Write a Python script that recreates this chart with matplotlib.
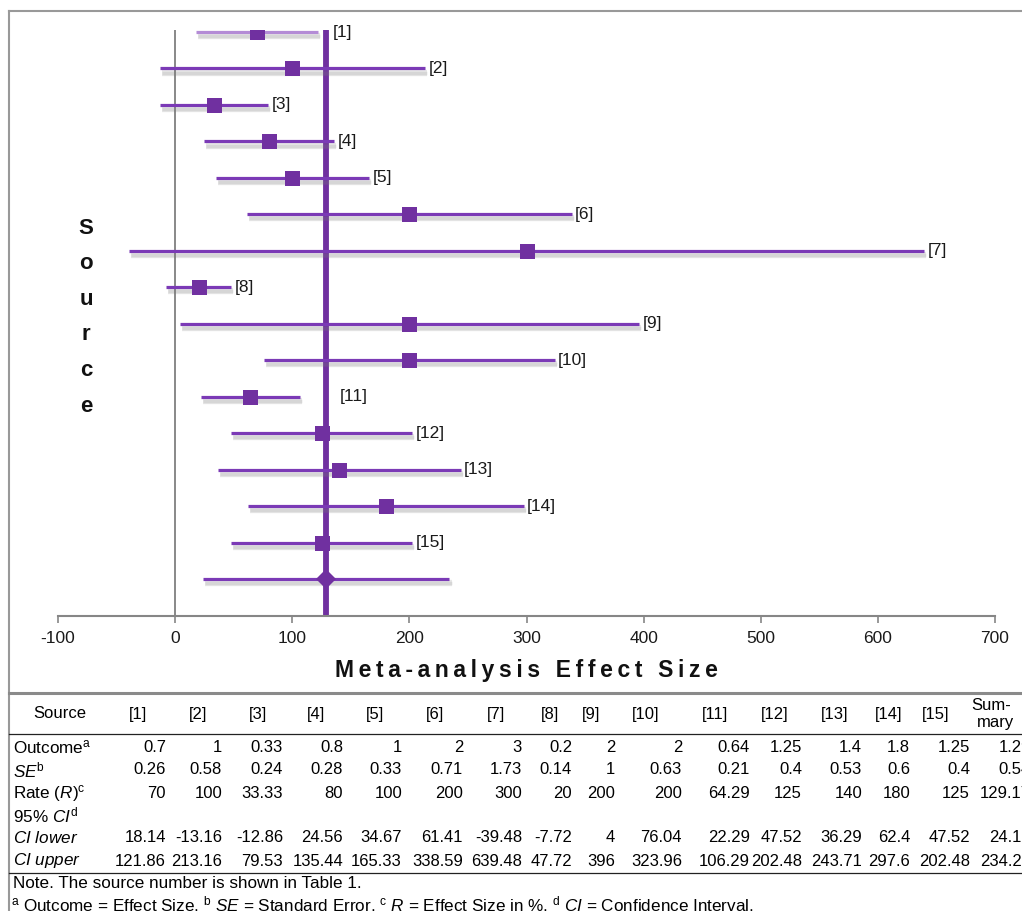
import matplotlib
matplotlib.use("Agg")
import matplotlib.pyplot as plt
import matplotlib.patheffects as pe
from matplotlib.lines import Line2D

plt.rcParams['font.family'] = ['Liberation Sans', 'DejaVu Sans']
plt.rcParams['mathtext.fontset'] = 'custom'
plt.rcParams['mathtext.rm'] = 'Liberation Sans'
plt.rcParams['mathtext.it'] = 'Liberation Sans:italic'
plt.rcParams['mathtext.bf'] = 'Liberation Sans:bold'

# ---------------- data ----------------
sources = ['[1]', '[2]', '[3]', '[4]', '[5]', '[6]', '[7]', '[8]', '[9]', '[10]',
           '[11]', '[12]', '[13]', '[14]', '[15]']
outcome = [0.7, 1, 0.33, 0.8, 1, 2, 3, 0.2, 2, 2, 0.64, 1.25, 1.4, 1.8, 1.25]
se = [0.26, 0.58, 0.24, 0.28, 0.33, 0.71, 1.73, 0.14, 1, 0.63, 0.21, 0.4, 0.53, 0.6, 0.4]
rate = [70, 100, 33.33, 80, 100, 200, 300, 20, 200, 200, 64.29, 125, 140, 180, 125]
ci_lower = [18.14, -13.16, -12.86, 24.56, 34.67, 61.41, -39.48, -7.72, 4, 76.04,
            22.29, 47.52, 36.29, 62.4, 47.52]
ci_upper = [121.86, 213.16, 79.53, 135.44, 165.33, 338.59, 639.48, 47.72, 396, 323.96,
            106.29, 202.48, 243.71, 297.6, 202.48]
summary_outcome = 1.29
summary_se = 0.54
summary_rate = 129.17
summary_lower = 24.1
summary_upper = 234.24
xticks = [-100, 0, 100, 200, 300, 400, 500, 600, 700]

# ---------------- figure ----------------
W, H = 1022, 911
fig = plt.figure(figsize=(W / 100, H / 100), dpi=100)
PURPLE = '#7030A0'
LINE = '#7B3AB6'

def fx(x):
    return x / W

def fy(y):
    return 1 - y / H

ax = fig.add_axes([fx(58), fy(616), 937 / W, (616 - 30) / H])
n = len(sources)
ypos = [n + 1 - i for i in range(n)]  # 16 .. 2
ysum = 1

shadow = [pe.SimpleLineShadow(offset=(1.5, -3), shadow_color='#7a7a7a', alpha=0.18, linewidth=4.5),
          pe.SimpleLineShadow(offset=(1.5, -3), shadow_color='#7a7a7a', alpha=0.15, linewidth=2.5),
          pe.Normal()]

ax.axvline(0, color='#7f7f7f', lw=1.3, zorder=1)
ax.axvline(summary_rate, color=PURPLE, lw=4.2, zorder=2)

for i in range(n):
    col = '#B48CD6' if i == 0 else LINE
    ax.plot([ci_lower[i], ci_upper[i]], [ypos[i], ypos[i]], color=col, lw=2.3,
            solid_capstyle='butt', path_effects=shadow, zorder=3)
    ax.plot([rate[i]], [ypos[i]], marker='s', ms=10.8, color=PURPLE, mec=PURPLE,
            mew=0, zorder=4)
    lx = ci_upper[i] + 3
    if summary_rate - 25 < ci_upper[i] < summary_rate + 4:
        lx = max(lx, summary_rate + 5)
    if i == 10:
        lx += 6
    ax.text(lx, ypos[i], sources[i], fontsize=12.5,
            ha='left', va='center', color='#1a1a1a')

ax.plot([summary_lower, summary_upper], [ysum, ysum], color=LINE, lw=2.3,
        solid_capstyle='butt', path_effects=shadow, zorder=3)
ax.plot([summary_rate], [ysum], marker='D', ms=10.5, color=PURPLE, mew=0, zorder=4)

ax.set_xlim(-100, 700)
ax.set_ylim(-0.015, 16.055)
ax.set_xticks(xticks)
ax.set_xticklabels([str(t) for t in xticks])
ax.set_yticks([])
for s in ['top', 'right', 'left']:
    ax.spines[s].set_visible(False)
ax.spines['bottom'].set_color('#868686')
ax.spines['bottom'].set_linewidth(1.5)
ax.tick_params(axis='x', direction='out', length=5, width=1.2, color='#868686',
               labelsize=12.5, pad=6, labelcolor='#1a1a1a')
xlabel = '\u2009'.join('Meta-analysis Effect Size')
ax.set_xlabel(xlabel, fontsize=16.5, fontweight='bold', labelpad=9, color='#111111')

# vertical y label
for k, ch in enumerate('Source'):
    fig.text(fx(86), fy(228 + 35.6 * k), ch, fontsize=16, fontweight='bold',
             ha='center', va='center', color='#111111')

# chart border
fig.add_artist(Line2D([fx(9), 1.0], [fy(11), fy(11)], color='#999999', lw=1.5))
fig.add_artist(Line2D([fx(9), fx(9)], [fy(11), 0.0], color='#999999', lw=1.5))

# ---------------- table ----------------
fig.add_artist(Line2D([fx(9), 1.0], [fy(693), fy(693)], color='#8a8a8a', lw=2.2))
fig.add_artist(Line2D([fx(9), 1.0], [fy(734), fy(734)], color='#222222', lw=0.9))
fig.add_artist(Line2D([fx(9), 1.0], [fy(873), fy(873)], color='#222222', lw=0.9))

TFS = 12
hdr_centers = [138, 198, 258, 316, 375, 435, 496, 550, 591, 646, 715, 775, 835, 889, 936]
val_right = [166, 222, 283, 343, 402, 463, 522, 572, 615, 682, 750, 802, 862, 910, 970]
sum_right = 1031

fig.text(fx(60), fy(714), 'Source', fontsize=TFS, ha='center', va='center')
for c, lab in zip(hdr_centers, sources):
    fig.text(fx(c), fy(714), lab, fontsize=TFS, ha='center', va='center')
fig.text(fx(1011), fy(706), 'Sum-', fontsize=TFS, ha='right', va='center')
fig.text(fx(1014), fy(723), 'mary', fontsize=TFS, ha='right', va='center')

row_labels = [r'Outcome$^{\mathrm{a}}$', r'$\mathit{SE}^{\mathrm{b}}$',
              r'Rate ($\mathit{R}$)$^{\mathrm{c}}$', r'95% $\mathit{CI}^{\mathrm{d}}$',
              r'$\mathit{CI\ lower}$', r'$\mathit{CI\ upper}$']
row_y = [747, 770, 793, 815, 838, 861]
row_vals = [outcome, se, rate, None, ci_lower, ci_upper]
row_sum = [summary_outcome, summary_se, summary_rate, None, summary_lower, summary_upper]

def fmt(v):
    return f'{v:g}'

for lab, y, vals, sv in zip(row_labels, row_y, row_vals, row_sum):
    fig.text(fx(13), fy(y), lab, fontsize=12.3, ha='left', va='center')
    if vals is None:
        continue
    for r, v in zip(val_right, vals):
        fig.text(fx(r), fy(y), fmt(v), fontsize=TFS, ha='right', va='center')
    fig.text(fx(sum_right), fy(y), f'{sv:.2f}', fontsize=TFS, ha='right', va='center')

fig.text(fx(13), fy(884), 'Note. The source number is shown in Table 1.', fontsize=12.3,
         ha='left', va='center')
fig.text(fx(11), fy(904),
         r'$^{\mathrm{a}}$ Outcome = Effect Size. $^{\mathrm{b}}$ $\mathit{SE}$ = Standard Error. '
         r'$^{\mathrm{c}}$ $\mathit{R}$ = Effect Size in %. $^{\mathrm{d}}$ $\mathit{CI}$ = Confidence Interval.',
         fontsize=12.3, ha='left', va='center')

fig.savefig('out.png', dpi=100)
